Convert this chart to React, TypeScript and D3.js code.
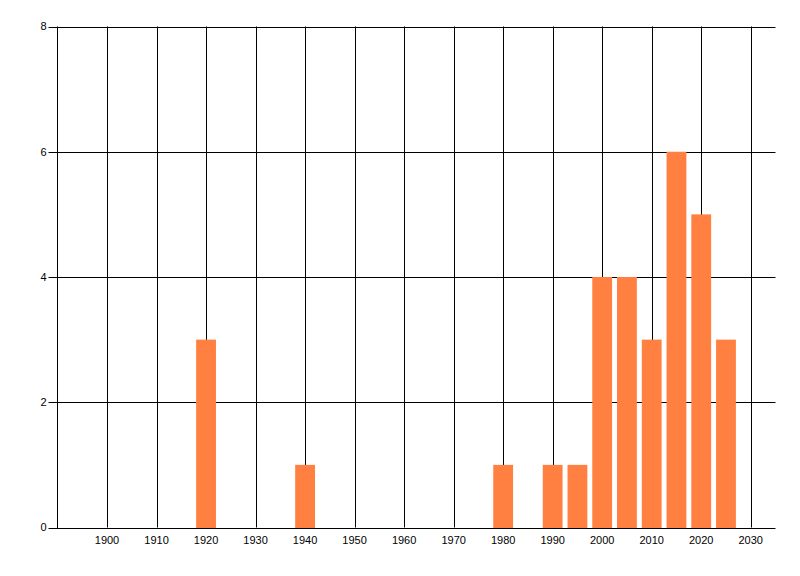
import * as React from "react";
import * as d3 from "d3";

const years = [1920, 1940, 1980, 1990, 1995, 2000, 2005, 2010, 2015, 2020, 2025];
const counts = [3, 1, 1, 1, 1, 4, 4, 3, 6, 5, 3];
const xTicks = [1900, 1910, 1920, 1930, 1940, 1950, 1960, 1970, 1980, 1990, 2000, 2010, 2020, 2030];
const yTicks = [0, 2, 4, 6, 8];

const App = () => {
  const ref = React.useRef(null);
  const width = 800;
  const height = 576;
  const left = 57.5;
  const right = 775.5;
  const top = 26.5;
  const bottom = 527.5;

  React.useEffect(() => {
    const svg = d3.select(ref.current);
    svg.selectAll("*").remove();

    const x = d3.scaleLinear().domain([1890, 2035]).range([left, right]);
    const y = d3.scaleLinear().domain([0, 8]).range([bottom, top]);
    const barW = x(1924) - x(1920);
    const font = "'Liberation Sans', Arial, sans-serif";

    // vertical grid
    svg
      .append("g")
      .selectAll("line")
      .data(xTicks)
      .enter()
      .append("line")
      .attr("x1", d => Math.round(x(d)) + 0.5)
      .attr("x2", d => Math.round(x(d)) + 0.5)
      .attr("y1", top)
      .attr("y2", bottom)
      .attr("stroke", "#000")
      .attr("stroke-width", 1);

    // horizontal grid with tick stubs
    svg
      .append("g")
      .selectAll("line")
      .data(yTicks)
      .enter()
      .append("line")
      .attr("x1", left - 9)
      .attr("x2", right)
      .attr("y1", d => Math.round(y(d)) + 0.5)
      .attr("y2", d => Math.round(y(d)) + 0.5)
      .attr("stroke", "#000")
      .attr("stroke-width", 1);

    // left axis line
    svg
      .append("line")
      .attr("x1", left)
      .attr("x2", left)
      .attr("y1", top)
      .attr("y2", bottom + 0.5)
      .attr("stroke", "#000");

    // bars
    svg
      .append("g")
      .selectAll("rect")
      .data(years)
      .enter()
      .append("rect")
      .attr("x", d => x(d) - barW / 2)
      .attr("width", barW)
      .attr("y", (d, i) => y(counts[i]))
      .attr("height", (d, i) => Math.round(y(0)) - y(counts[i]))
      .attr("fill", "#ff8040");

    // y labels
    svg
      .append("g")
      .selectAll("text")
      .data(yTicks)
      .enter()
      .append("text")
      .attr("x", left - 11)
      .attr("y", d => y(d))
      .attr("dy", "0.35em")
      .attr("text-anchor", "end")
      .style("font-family", font)
      .style("font-size", "11px")
      .text(d => d);

    // x labels
    svg
      .append("g")
      .selectAll("text")
      .data(xTicks)
      .enter()
      .append("text")
      .attr("x", d => x(d))
      .attr("y", bottom + 13)
      .attr("dy", "0.35em")
      .attr("text-anchor", "middle")
      .style("font-family", font)
      .style("font-size", "11px")
      .text(d => d);
  }, []);

  return (
    <svg
      ref={ref}
      width={width}
      height={height}
      style={{ position: "absolute", left: 0, top: 0, background: "#fff" }}
    />
  );
};

export default App;
